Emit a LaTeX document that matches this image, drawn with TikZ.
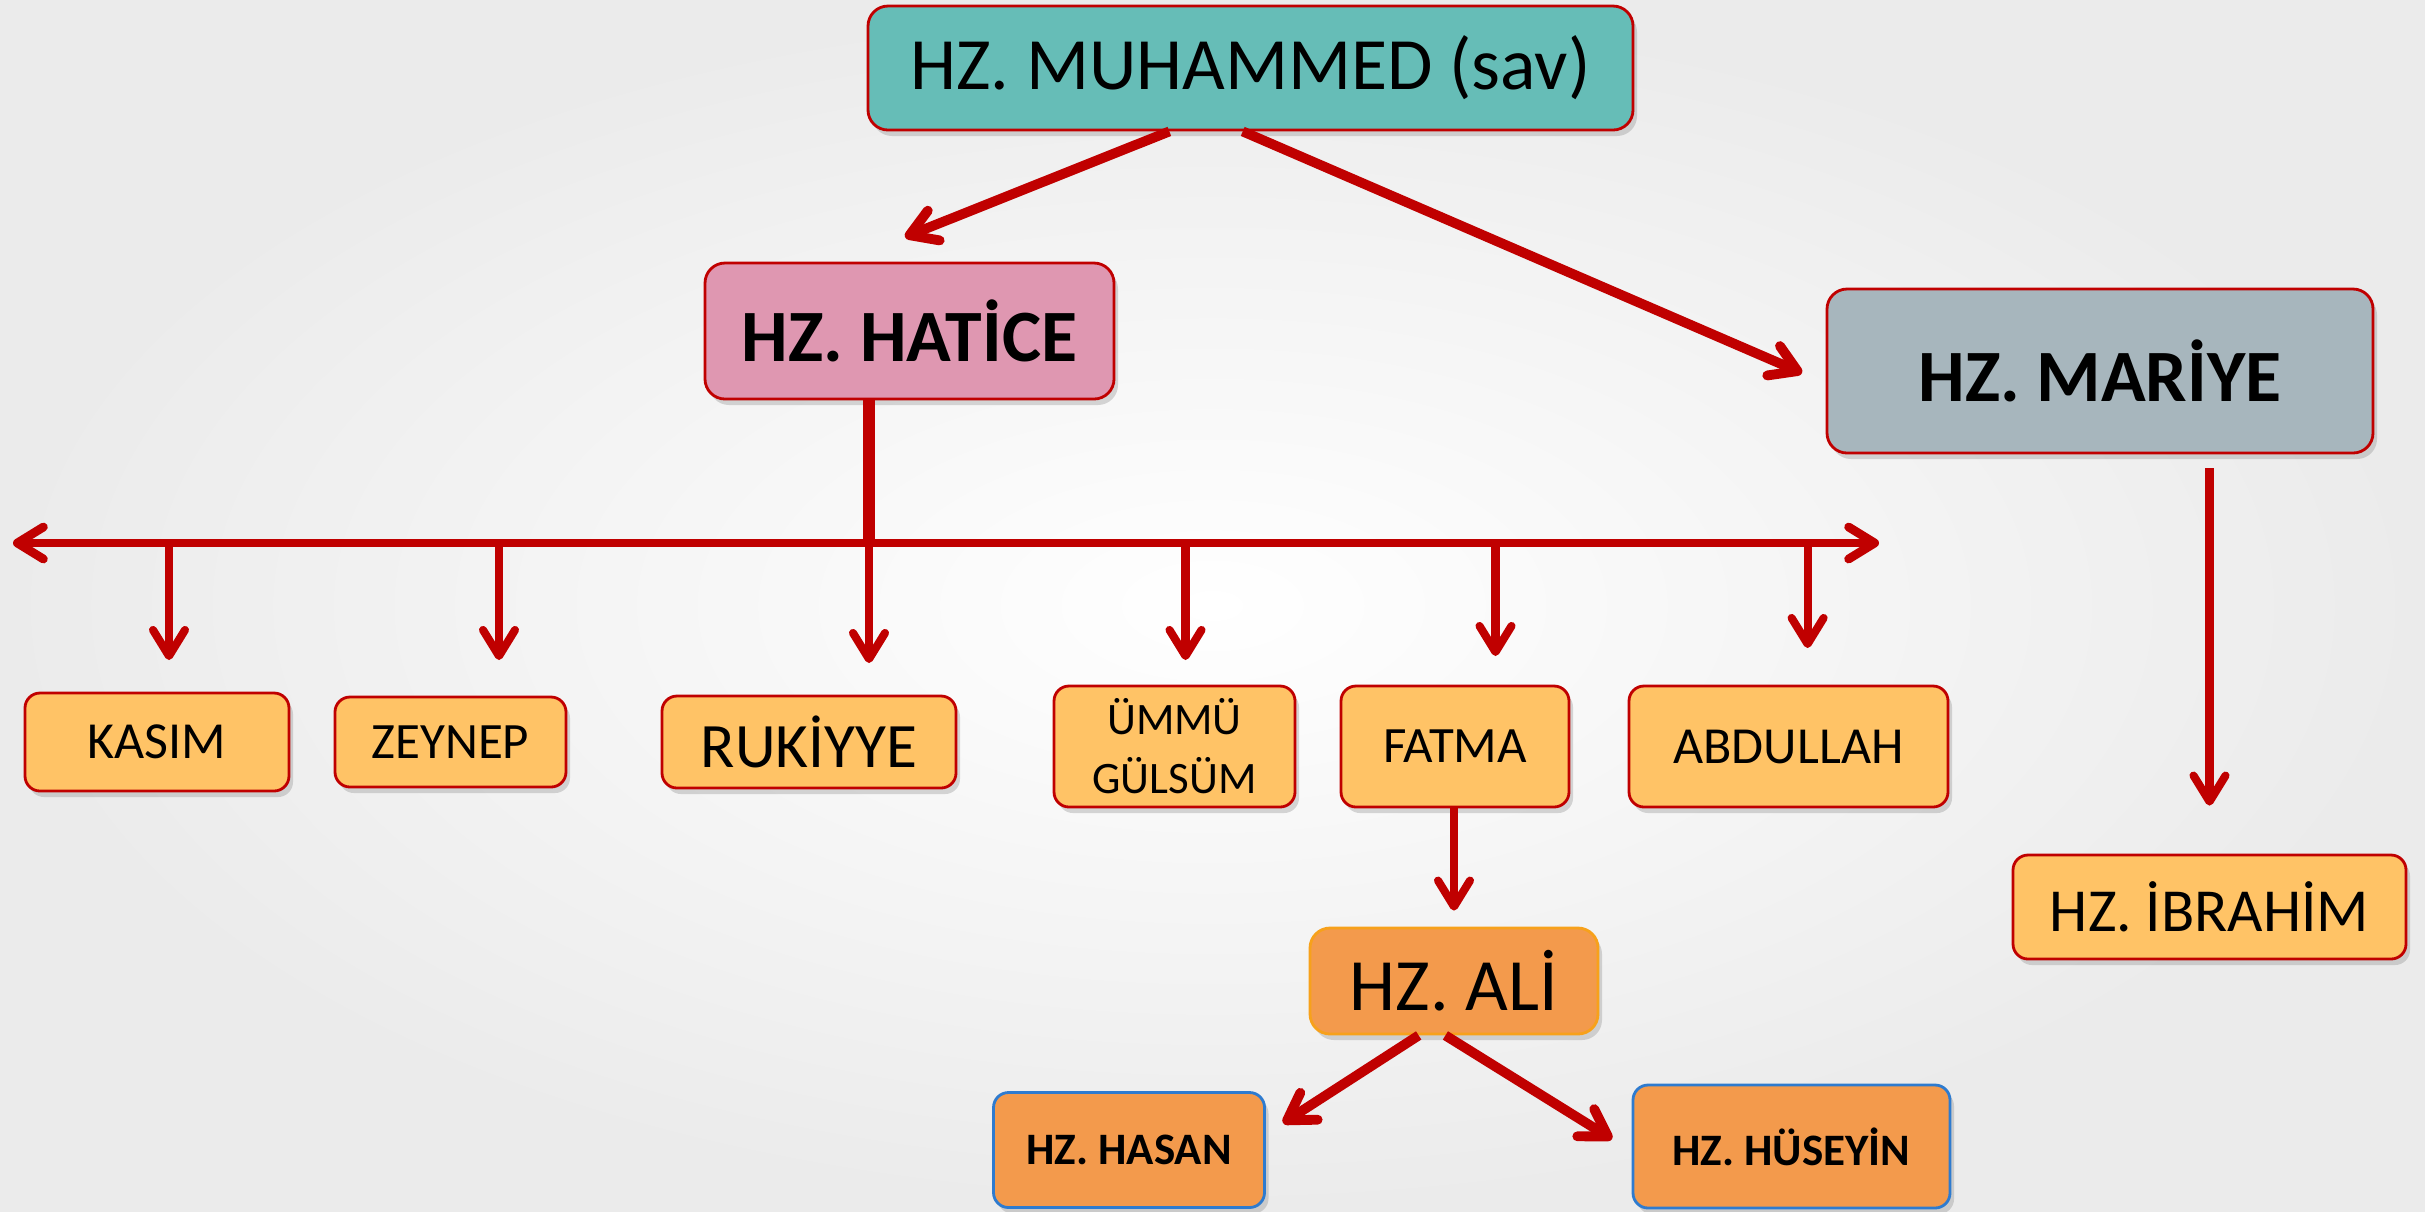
\documentclass[tikz,border=0pt]{standalone}
\usepackage{fontspec}
\setmainfont{Carlito}
\usetikzlibrary{arrows.meta,shadows}

\definecolor{linkred}{HTML}{C00000}
\definecolor{tealfill}{HTML}{66BDB7}
\definecolor{pinkfill}{HTML}{DF97B1}
\definecolor{greyfill}{HTML}{A7B6BD}
\definecolor{kidfill}{HTML}{FFC366}
\definecolor{alifill}{HTML}{F39A4C}
\definecolor{aliline}{HTML}{F7A11B}
\definecolor{grandline}{HTML}{2E7BCF}
\definecolor{bgouter}{HTML}{EBEBEB}

\tikzset{
  box/.style={draw=linkred,line width=0.8pt,shape=rectangle,rounded corners=0.2cm,inner sep=0pt,align=center,
    drop shadow={opacity=0.3,shadow xshift=0.04cm,shadow yshift=-0.06cm}},
  kid/.style={box,fill=kidfill,rounded corners=0.15cm},
  grand/.style={box,draw=grandline,fill=alifill,rounded corners=0.15cm},
  barb/.tip={Straight Barb[length=0.26cm,width=0.32cm,round]},
  link/.style={draw=linkred,line width=2.3pt,-barb},
}

\begin{document}
\begin{tikzpicture}
\useasboundingbox (0,0) rectangle (24.25,-12.11);
\shade[inner color=white,outer color=bgouter] (0,0) rectangle (24.25,-12.11);

\node (muhammed) [box,fill=tealfill,minimum width=7.65cm,minimum height=1.24cm,font=\fontsize{21pt}{25pt}\selectfont] at (12.505,-0.68) {HZ. MUHAMMED (sav)};
\node (hatice) [box,fill=pinkfill,minimum width=4.09cm,minimum height=1.36cm,font=\bfseries\fontsize{21pt}{25pt}\selectfont] at (9.095,-3.31) {HZ. HATİCE};
\node (mariye) [box,fill=greyfill,minimum width=5.46cm,minimum height=1.64cm,font=\bfseries\fontsize{21pt}{25pt}\selectfont] at (21.00,-3.71) {HZ. MARİYE};
\node (ibrahim) [kid,minimum width=3.93cm,minimum height=1.04cm,font=\fontsize{17.4pt}{21pt}\selectfont] at (22.095,-9.07) {HZ. İBRAHİM};

\node (kasim) [kid,minimum width=2.64cm,minimum height=0.98cm,font=\fontsize{14.8pt}{18pt}\selectfont] at (1.57,-7.42) {KASIM};
\node (zeynep) [kid,minimum width=2.31cm,minimum height=0.90cm,font=\fontsize{14.5pt}{18pt}\selectfont] at (4.505,-7.42) {ZEYNEP};
\node (rukiyye) [kid,minimum width=2.94cm,minimum height=0.92cm,font=\fontsize{18pt}{22pt}\selectfont] at (8.09,-7.42) {RUKİYYE};
\node (ummu) [kid,minimum width=2.41cm,minimum height=1.21cm,font=\fontsize{12.8pt}{16.8pt}\selectfont] at (11.745,-7.465) {ÜMMÜ\\GÜLSÜM};
\node (fatma) [kid,minimum width=2.28cm,minimum height=1.21cm,font=\fontsize{14.5pt}{18pt}\selectfont] at (14.55,-7.465) {FATMA};
\node (abdullah) [kid,minimum width=3.19cm,minimum height=1.21cm,font=\fontsize{14.8pt}{18pt}\selectfont] at (17.885,-7.465) {ABDULLAH};

\node (ali) [box,draw=aliline,fill=alifill,minimum width=2.88cm,minimum height=1.06cm,font=\fontsize{21pt}{25pt}\selectfont] at (14.54,-9.81) {HZ. ALİ};
\node (hasan) [grand,minimum width=2.71cm,minimum height=1.15cm,font=\bfseries\fontsize{12.8pt}{16pt}\selectfont] at (11.29,-11.50) {HZ. HASAN};
\node (huseyin) [grand,minimum width=3.17cm,minimum height=1.23cm,font=\bfseries\fontsize{12.8pt}{16pt}\selectfont] at (17.915,-11.465) {HZ. HÜSEYİN};

\coordinate (haticetip) at (9.05,-2.37);
\coordinate (mariyetip) at (18.02,-3.73);
\coordinate (barleft) at (0.13,-5.43);
\coordinate (barright) at (18.79,-5.43);
\coordinate (kasimtip) at (1.69,-6.60);
\coordinate (zeyneptip) at (4.99,-6.60);
\coordinate (rukiyyetip) at (8.69,-6.63);
\coordinate (ummutip) at (11.855,-6.60);
\coordinate (fatmatip) at (14.955,-6.56);
\coordinate (abdullahtip) at (18.076,-6.48);
\coordinate (hasantip) at (12.83,-11.23);
\coordinate (huseyintip) at (16.12,-11.39);

\draw[link,line width=2.8pt] (muhammed.218) -- (haticetip);
\draw[link,line width=2.8pt] (muhammed.263) -- (mariyetip);
\draw[draw=linkred,line width=3.4pt] (rukiyyetip |- hatice.south) -- (rukiyyetip |- barleft);
\draw[link,line width=2.5pt,barb-barb] (barleft) -- (barright);
\foreach \tip in {kasimtip,zeyneptip,rukiyyetip,ummutip,fatmatip,abdullahtip}
  \draw[link] (\tip |- barleft) -- (\tip);
\draw[link,shorten <=0.14cm,shorten >=0.48cm] (ibrahim.north |- mariye.south) -- (ibrahim.north);
\draw[link,shorten >=0.16cm] (ali.north |- fatma.south) -- (ali.north);
\draw[link,line width=2.8pt] (ali.237) -- (hasantip);
\draw[link,line width=2.8pt] (ali.261) -- (huseyintip);

\end{tikzpicture}
\end{document}
